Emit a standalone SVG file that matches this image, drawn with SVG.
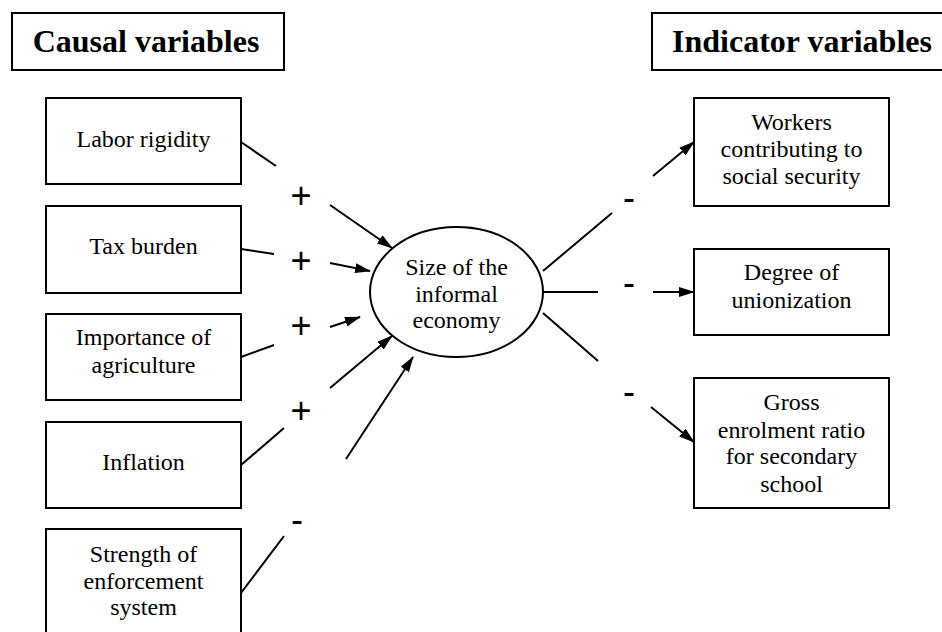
<svg xmlns="http://www.w3.org/2000/svg" width="942" height="632" viewBox="0 0 942 632">
<style>
.box{fill:#fff;stroke:#000;stroke-width:2}
.t{font-family:'Liberation Serif','DejaVu Serif','Times New Roman',serif;font-size:24px;text-anchor:middle;fill:#000}
.h{font-family:'Liberation Serif','DejaVu Serif','Times New Roman',serif;font-size:32px;font-weight:bold;text-anchor:middle;fill:#000}
.s{font-family:'Liberation Sans',Arial,sans-serif;font-size:36px;text-anchor:middle;fill:#000}
.ln{stroke:#000;stroke-width:2;fill:none}
.ar{stroke:#000;stroke-width:2;fill:none;marker-end:url(#ah)}
</style>
<defs>
<marker id="ah" viewBox="0 0 16 10" markerWidth="16" markerHeight="10" refX="15" refY="5" orient="auto" markerUnits="userSpaceOnUse">
<path d="M0,0 L16,5 L0,10 z" fill="#000"/>
</marker>
</defs>
<rect width="942" height="632" fill="#fff"/>
<g font-family="Liberation Serif, DejaVu Serif, serif">
<g id="hdr-causal">
<rect class="box" x="12" y="13" width="272" height="57"/>
<text class="h" x="146" y="52" font-family="Liberation Serif, serif">Causal variables</text>
</g>
<g id="hdr-indicator">
<rect class="box" x="652" y="13" width="300" height="57"/>
<text class="h" x="802" y="52">Indicator variables</text>
</g>
<g id="labor">
<rect class="box" x="46" y="98" width="195" height="86"/>
<text class="t" x="143.5" y="147">Labor rigidity</text>
</g>
<g id="tax">
<rect class="box" x="46" y="206" width="195" height="87"/>
<text class="t" x="143.5" y="254">Tax burden</text>
</g>
<g id="agri">
<rect class="box" x="46" y="314" width="195" height="86"/>
<text class="t" x="143.5" y="345">Importance of</text>
<text class="t" x="143.5" y="373">agriculture</text>
</g>
<g id="inflation">
<rect class="box" x="46" y="422" width="195" height="86"/>
<text class="t" x="143.5" y="470">Inflation</text>
</g>
<g id="enforcement">
<rect class="box" x="46" y="529" width="195" height="120"/>
<text class="t" x="143.5" y="562">Strength of</text>
<text class="t" x="143.5" y="589">enforcement</text>
<text class="t" x="143.5" y="615">system</text>
</g>
<g id="informal">
<ellipse class="box" cx="456.5" cy="292" rx="86.5" ry="65"/>
<text class="t" x="456.5" y="275">Size of the</text>
<text class="t" x="456.5" y="302">informal</text>
<text class="t" x="456.5" y="328">economy</text>
</g>
<g id="workers">
<rect class="box" x="694" y="98" width="195" height="108"/>
<text class="t" x="791.5" y="130">Workers</text>
<text class="t" x="791.5" y="157">contributing to</text>
<text class="t" x="791.5" y="184">social security</text>
</g>
<g id="union">
<rect class="box" x="694" y="249" width="195" height="86"/>
<text class="t" x="791.5" y="280">Degree of</text>
<text class="t" x="791.5" y="308">unionization</text>
</g>
<g id="enrol">
<rect class="box" x="694" y="378" width="195" height="130"/>
<text class="t" x="791.5" y="410">Gross</text>
<text class="t" x="791.5" y="438">enrolment ratio</text>
<text class="t" x="791.5" y="464">for secondary</text>
<text class="t" x="791.5" y="492">school</text>
</g>
</g>
<g id="connectors">
<line class="ln" x1="241" y1="142" x2="276" y2="166"/>
<line class="ar" x1="330" y1="205" x2="392" y2="248"/>
<line class="ln" x1="241" y1="249" x2="274" y2="254"/>
<line class="ar" x1="330" y1="263" x2="370" y2="271"/>
<line class="ln" x1="241" y1="357" x2="274" y2="345"/>
<line class="ar" x1="330" y1="327" x2="360" y2="317"/>
<line class="ln" x1="241" y1="465" x2="284" y2="428"/>
<line class="ar" x1="330" y1="388" x2="392" y2="336"/>
<line class="ln" x1="241" y1="593" x2="284" y2="536"/>
<line class="ar" x1="346" y1="459" x2="413" y2="357"/>
<line class="ln" x1="543" y1="271" x2="612" y2="213"/>
<line class="ar" x1="653" y1="176" x2="694" y2="142"/>
<line class="ln" x1="543" y1="292" x2="598" y2="292"/>
<line class="ar" x1="653" y1="292" x2="694" y2="292"/>
<line class="ln" x1="543" y1="313" x2="598" y2="361"/>
<line class="ar" x1="651" y1="407" x2="694" y2="442"/>
<text class="s" x="301" y="208">+</text>
<text class="s" x="301" y="273">+</text>
<text class="s" x="301" y="338">+</text>
<text class="s" x="301" y="423">+</text>
<text class="s" x="297" y="532">-</text>
<text class="s" x="629" y="210">-</text>
<text class="s" x="629" y="295">-</text>
<text class="s" x="629" y="404">-</text>
</g>
</svg>
